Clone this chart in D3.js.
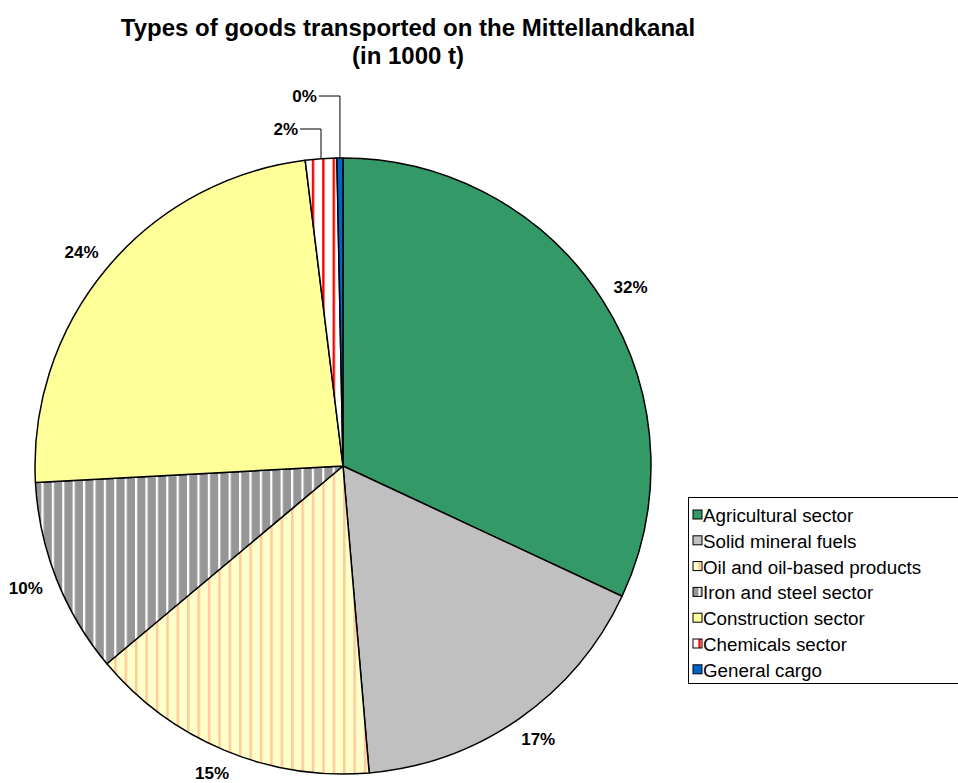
<!DOCTYPE html>
<html>
<head>
<meta charset="utf-8">
<script src="https://cdn.jsdelivr.net/npm/d3@7"></script>
<style>
  body { margin: 0; background: #fff; }
  svg { display: block; font-family: Arial, "Liberation Sans", sans-serif; }
</style>
</head>
<body>
<svg id="chart" width="958" height="783"></svg>
<script>
// Goods types (in 1000 t)
const categories = [
  'Agricultural sector',
  'Solid mineral fuels',
  'Oil and oil-based products',
  'Iron and steel sector',
  'Construction sector',
  'Chemicals sector',
  'General cargo'
];
const tonnes = [5550, 2900, 2650, 1780, 4150, 285, 55];
const titleLines = ['Types of goods transported on the Mittellandkanal', '(in 1000 t)'];

const svg = d3.select('#chart');
const width = 958;
const cx = 343, cy = 466, radius = 308;

// Fill patterns (stripes like the original office chart)
const defs = svg.append('defs');
function stripes(id, bg, fg, stripeW) {
  const p = defs.append('pattern')
    .attr('id', id)
    .attr('patternUnits', 'userSpaceOnUse')
    .attr('width', 10.4)
    .attr('height', 10);
  p.append('rect').attr('width', 10.4).attr('height', 10).attr('fill', bg);
  p.append('rect').attr('width', stripeW).attr('height', 10).attr('fill', fg);
}
stripes('pat-oil', '#FFFFCC', '#FFCC99', 2.6);
stripes('pat-iron', '#969696', '#FFFFFF', 2.2);
stripes('pat-chem', '#FFFFFF', '#FF0000', 2.4);

const fills = d3.scaleOrdinal()
  .domain(categories)
  .range(['#339966', '#C0C0C0', 'url(#pat-oil)', 'url(#pat-iron)', '#FFFF99', 'url(#pat-chem)', '#0066CC']);

// Title
svg.append('g')
  .selectAll('text')
  .data(titleLines)
  .enter()
  .append('text')
  .attr('x', 408)
  .attr('y', (d, i) => 36 + i * 28)
  .attr('text-anchor', 'middle')
  .style('font-size', '24px')
  .style('font-weight', 'bold')
  .text(d => d);

// Pie
const data = categories.map((c, i) => ({ name: c, value: tonnes[i] }));
const total = d3.sum(tonnes);
const pie = d3.pie().value(d => d.value).sort(null);
const arcs = pie(data);
const arc = d3.arc().innerRadius(0).outerRadius(radius);

const g = svg.append('g').attr('transform', `translate(${cx},${cy})`);

g.selectAll('.slice')
  .data(arcs)
  .enter()
  .append('path')
  .attr('class', 'slice')
  .attr('d', arc)
  .attr('fill', d => fills(d.data.name))
  .attr('stroke', '#000')
  .attr('stroke-width', 1.5)
  .attr('stroke-linejoin', 'round');

// Percentage labels
const fmt = d => Math.round(d.data.value / total * 100) + '%';
const labelR = 333;
const bigArcs = arcs.filter(d => d.data.value / total >= 0.02);
const smallArcs = arcs.filter(d => d.data.value / total < 0.02);

g.selectAll('.pct')
  .data(bigArcs)
  .enter()
  .append('text')
  .attr('class', 'pct')
  .attr('x', d => {
    const a = (d.startAngle + d.endAngle) / 2;
    return labelR * Math.sin(a) + 8 * Math.sin(a);
  })
  .attr('y', d => {
    const a = (d.startAngle + d.endAngle) / 2;
    return -labelR * Math.cos(a) + 6;
  })
  .attr('text-anchor', 'middle')
  .style('font-size', '17px')
  .style('font-weight', 'bold')
  .text(fmt);

// Small slices get labels above the pie with leader lines
const liftBy = [29, 62];
smallArcs.forEach((d, i) => {
  const a = (d.startAngle + d.endAngle) / 2;
  const ex = radius * Math.sin(a);
  const ey = -radius * Math.cos(a);
  const ly = -radius - liftBy[i];
  g.append('path')
    .attr('d', `M${ex},${ey}V${ly}H${ex - 21}`)
    .attr('fill', 'none')
    .attr('stroke', '#000')
    .attr('stroke-width', 1);
  g.append('text')
    .attr('x', ex - 23)
    .attr('y', ly + 6)
    .attr('text-anchor', 'end')
    .style('font-size', '17px')
    .style('font-weight', 'bold')
    .text(fmt(d));
});

// Legend
const legendX = 688, legendY = 497, rowH = 25.8;
const legend = svg.append('g').attr('transform', `translate(${legendX},${legendY})`);
legend.append('rect')
  .attr('x', 0.5)
  .attr('y', 0.5)
  .attr('width', width - legendX + 10)
  .attr('height', 186)
  .attr('fill', '#fff')
  .attr('stroke', '#000')
  .attr('stroke-width', 1);

const items = legend.selectAll('.item')
  .data(categories)
  .enter()
  .append('g')
  .attr('class', 'item')
  .attr('transform', (d, i) => `translate(0,${18 + i * rowH})`);

items.append('rect')
  .attr('x', 5)
  .attr('y', -5)
  .attr('width', 9)
  .attr('height', 9)
  .attr('fill', d => fills(d))
  .attr('stroke', '#000')
  .attr('stroke-width', 1);

items.append('text')
  .attr('x', 15)
  .attr('y', 7)
  .style('font-size', '18.8px')
  .text(d => d);
</script>
</body>
</html>
